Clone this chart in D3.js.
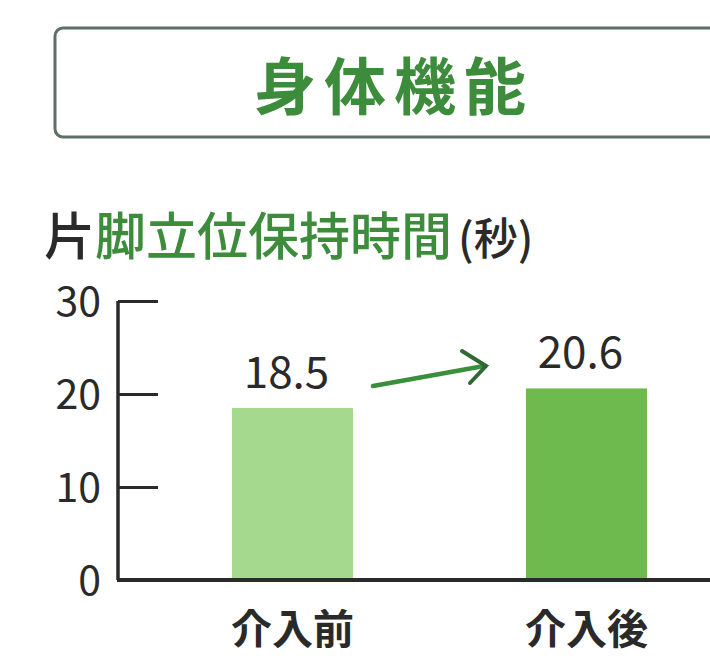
<!DOCTYPE html>
<html>
<head>
<meta charset="utf-8">
<script src="https://cdn.jsdelivr.net/npm/d3@7"></script>
<style>
  html, body { margin: 0; padding: 0; background: #fff; }
  svg { display: block; }
</style>
</head>
<body>
<svg id="chart" width="710" height="658"></svg>
<script>
// Single-leg standing time (seconds), before and after the intervention
const categories = ["介入前", "介入後"];
const values = [18.5, 20.6];
const valueLabels = ["18.5", "20.6"];
const barColors = ["#a4d98e", "#6fba4f"];
const yTicks = [0, 10, 20, 30];
const sectionTitle = "身体機能";
const titleLead = "片";
const titleRest = "脚立位保持時間";
const unitLabel = "(秒)";

const svg = d3.select("#chart");
const font = "'Noto Sans CJK JP', 'Noto Sans', sans-serif";
const green = "#3c8c3c";
const dark = "#2a2a2a";

// Section header box
svg.append("rect")
  .attr("x", 55).attr("y", 28)
  .attr("width", 700).attr("height", 109)
  .attr("rx", 8)
  .attr("fill", "#fff")
  .attr("stroke", "#5f6f66")
  .attr("stroke-width", 3);

svg.append("text")
  .attr("x", 394).attr("y", 110)
  .attr("text-anchor", "middle")
  .attr("font-family", font)
  .attr("font-weight", 700)
  .attr("font-size", 62)
  .attr("letter-spacing", 8)
  .attr("fill", green)
  .text(sectionTitle);

// Chart title
const title = svg.append("text")
  .attr("x", 44).attr("y", 255)
  .attr("font-family", font)
  .attr("font-weight", 500)
  .attr("font-size", 51)
  .attr("fill", green);
title.append("tspan").attr("fill", dark).text(titleLead);
title.append("tspan").text(titleRest);
title.append("tspan")
  .attr("font-size", 44)
  .attr("dx", 6)
  .attr("fill", dark)
  .text(unitLabel);

// Scales
const y = d3.scaleLinear().domain([0, 30]).range([580, 301]);
const x = d3.scaleBand()
  .domain(categories)
  .range([232, 647])
  .paddingInner(0.588)
  .paddingOuter(0);

// Bars
svg.selectAll("rect.bar")
  .data(values)
  .join("rect")
  .attr("class", "bar")
  .attr("x", (d, i) => x(categories[i]))
  .attr("width", x.bandwidth())
  .attr("y", d => y(d))
  .attr("height", d => y(0) - y(d))
  .attr("fill", (d, i) => barColors[i]);

// Value labels
svg.selectAll("text.val")
  .data(values)
  .join("text")
  .attr("class", "val")
  .attr("x", (d, i) => x(categories[i]) + x.bandwidth() / 2 - 6)
  .attr("y", d => y(d) - 20)
  .attr("text-anchor", "middle")
  .attr("font-family", font)
  .attr("font-size", 44)
  .attr("fill", dark)
  .text((d, i) => valueLabels[i]);

// Y axis with inward ticks
const yAxis = d3.axisRight(y)
  .tickValues(yTicks)
  .tickSize(40)
  .tickFormat("");
const gy = svg.append("g")
  .attr("transform", "translate(118,0)")
  .call(yAxis);
gy.select(".domain")
  .attr("d", `M0,${y(30)}V${y(0)}`)
  .attr("stroke", dark)
  .attr("stroke-width", 3.5);
gy.selectAll(".tick line")
  .attr("stroke", dark)
  .attr("stroke-width", 3);

svg.selectAll("text.ytick")
  .data(yTicks)
  .join("text")
  .attr("class", "ytick")
  .attr("x", 101)
  .attr("y", d => y(d) + 15)
  .attr("text-anchor", "end")
  .attr("font-family", font)
  .attr("font-size", 41)
  .attr("fill", dark)
  .text(d => d);

// X axis baseline
svg.append("line")
  .attr("x1", 117).attr("x2", 710)
  .attr("y1", y(0)).attr("y2", y(0))
  .attr("stroke", dark)
  .attr("stroke-width", 4);

// Category labels
svg.selectAll("text.cat")
  .data(categories)
  .join("text")
  .attr("class", "cat")
  .attr("x", d => x(d) + x.bandwidth() / 2)
  .attr("y", 644)
  .attr("text-anchor", "middle")
  .attr("font-family", font)
  .attr("font-weight", 700)
  .attr("font-size", 41)
  .attr("fill", dark)
  .text(d => d);

// Arrow from the before label toward the after label
const ax1 = 373, ay1 = 386, ax2 = 486, ay2 = 366;
svg.append("line")
  .attr("x1", ax1).attr("y1", ay1)
  .attr("x2", ax2 - 2).attr("y2", ay2)
  .attr("stroke", "#3a8f3a")
  .attr("stroke-width", 4.5)
  .attr("stroke-linecap", "round");
svg.append("path")
  .attr("d", `M462,351 L${ax2},${ay2} L470,383`)
  .attr("fill", "none")
  .attr("stroke", "#2f6a35")
  .attr("stroke-width", 4)
  .attr("stroke-linecap", "round")
  .attr("stroke-linejoin", "miter");
</script>
</body>
</html>
